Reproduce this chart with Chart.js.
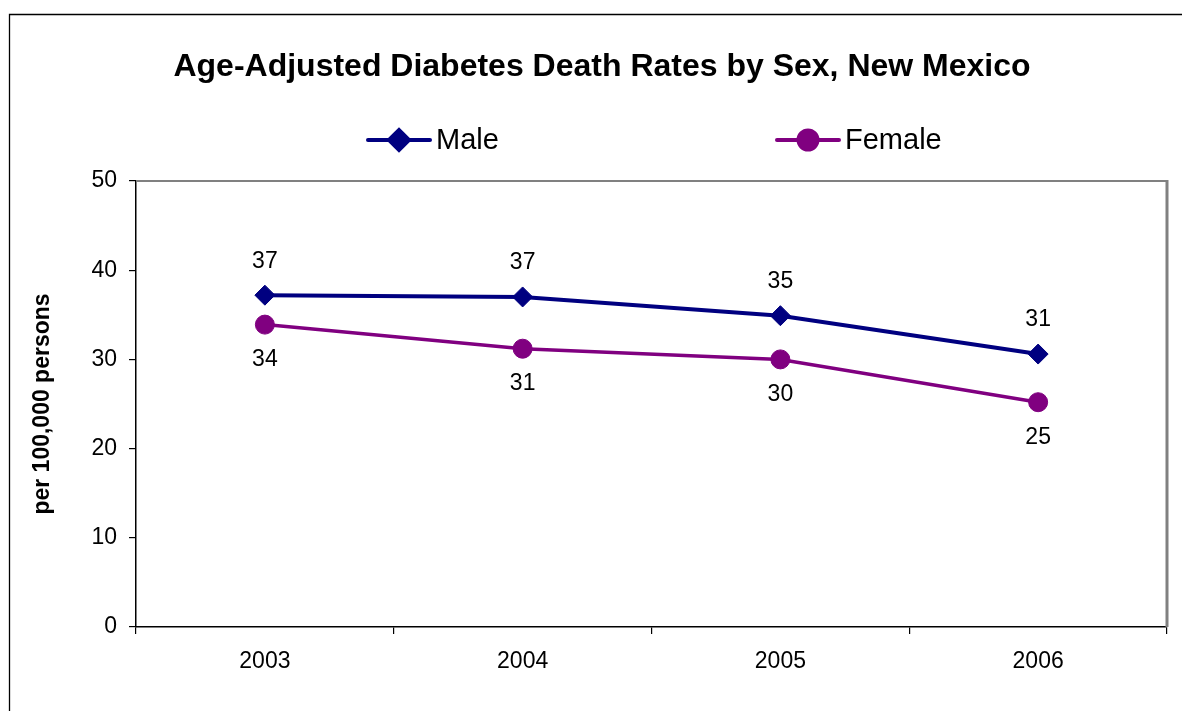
<!DOCTYPE html>
<html>
<head>
<meta charset="utf-8">
<style>
  html, body { margin: 0; padding: 0; background: #fff; }
  #wrap { width: 1182px; height: 711px; }
</style>
</head>
<body>
<div id="wrap"><canvas id="diabetesChart"></canvas></div>
<script src="https://cdn.jsdelivr.net/npm/chart.js"></script>
<script>
// values
var years = ['2003', '2004', '2005', '2006'];
var maleRates = [37.2, 37.0, 34.9, 30.6];
var femaleRates = [33.9, 31.2, 30.0, 25.2];
var maleLabels = ['37', '37', '35', '31'];
var femaleLabels = ['34', '31', '30', '25'];

var NAVY = '#000080';
var PURPLE = '#800080';
var FONT = 'Arial, "Liberation Sans", sans-serif';

// frame, plot border, value labels and the legend
var extras = {
  id: 'extras',
  beforeDraw: function(chart) {
    var ctx = chart.ctx;
    ctx.save();
    ctx.fillStyle = '#fff';
    ctx.fillRect(0, 0, chart.width, chart.height);
    ctx.strokeStyle = '#000';
    ctx.lineWidth = 1.3;
    ctx.beginPath();
    ctx.moveTo(9.5, chart.height + 2);
    ctx.lineTo(9.5, 14.5);
    ctx.lineTo(chart.width + 2, 14.5);
    ctx.stroke();
    ctx.restore();
  },
  beforeDatasetsDraw: function(chart) {
    var ctx = chart.ctx, a = chart.chartArea;
    ctx.save();
    ctx.strokeStyle = '#808080';
    ctx.lineWidth = 2;
    ctx.beginPath();
    ctx.moveTo(a.left, a.top);
    ctx.lineTo(a.right, a.top);
    ctx.stroke();
    ctx.lineWidth = 3;
    ctx.beginPath();
    ctx.moveTo(a.right, a.top - 1);
    ctx.lineTo(a.right, a.bottom);
    ctx.stroke();
    ctx.restore();
  },
  afterDatasetsDraw: function(chart) {
    var ctx = chart.ctx;
    ctx.save();
    ctx.font = '23px ' + FONT;
    ctx.fillStyle = '#000';
    ctx.textAlign = 'center';
    ctx.textBaseline = 'middle';
    chart.getDatasetMeta(0).data.forEach(function(pt, i) {
      ctx.fillText(maleLabels[i], pt.x, pt.y - 34);
    });
    chart.getDatasetMeta(1).data.forEach(function(pt, i) {
      ctx.fillText(femaleLabels[i], pt.x, pt.y + 35);
    });

    // legend
    var items = [
      { text: 'Male', color: NAVY, style: 'rectRot', x: 368, r: 10 },
      { text: 'Female', color: PURPLE, style: 'circle', x: 777, r: 9.5 }
    ];
    var ly = 140;
    ctx.font = '29px ' + FONT;
    ctx.textAlign = 'left';
    items.forEach(function(it) {
      ctx.strokeStyle = it.color;
      ctx.fillStyle = it.color;
      ctx.lineWidth = 4;
      ctx.lineCap = 'round';
      ctx.beginPath();
      ctx.moveTo(it.x, ly);
      ctx.lineTo(it.x + 62, ly);
      ctx.stroke();
      Chart.helpers.drawPoint(ctx, { pointStyle: it.style, radius: it.r, borderWidth: 1 }, it.x + 31, ly);
      ctx.fill();
      ctx.fillStyle = '#000';
      ctx.fillText(it.text, it.x + 68, ly + 1);
    });
    ctx.restore();
  }
};

var ctx = document.getElementById('diabetesChart').getContext('2d');
var diabetesChart = new Chart(ctx, {
  type: 'line',
  data: {
    labels: years,
    datasets: [{
      label: 'Male',
      data: maleRates,
      borderColor: NAVY,
      backgroundColor: NAVY,
      borderWidth: 4,
      pointStyle: 'rectRot',
      pointRadius: 10,
      pointBorderWidth: 1,
      tension: 0
    }, {
      label: 'Female',
      data: femaleRates,
      borderColor: PURPLE,
      backgroundColor: PURPLE,
      borderWidth: 3.5,
      pointStyle: 'circle',
      pointRadius: 9.5,
      pointBorderWidth: 1,
      tension: 0
    }]
  },
  options: {
    responsive: true,
    maintainAspectRatio: false,
    animation: false,
    layout: { padding: { left: 37, right: 15, top: 0, bottom: 0 } },
    plugins: {
      legend: { display: false },
      tooltip: { enabled: false },
      title: {
        display: true,
        text: 'Age-Adjusted Diabetes Death Rates by Sex, New Mexico',
        color: '#000',
        font: { family: FONT, size: 32, weight: 'bold' },
        padding: { top: 48, bottom: 94.6 }
      }
    },
    scales: {
      x: {
        type: 'category',
        offset: true,
        border: { color: '#000', width: 1.5 },
        grid: { offset: true, drawOnChartArea: false, tickLength: 7, color: '#000', lineWidth: 1.2 },
        ticks: { color: '#000', font: { family: FONT, size: 23 }, padding: 14, maxRotation: 0 },
        afterFit: function(scale) { scale.height = 84; }
      },
      y: {
        min: 0,
        max: 50,
        border: { color: '#000', width: 1.5 },
        grid: { drawOnChartArea: false, tickLength: 7, color: '#000', lineWidth: 1.2 },
        ticks: { stepSize: 10, color: '#000', font: { family: FONT, size: 23 }, padding: 12 },
        title: {
          display: true,
          text: 'per 100,000 persons',
          color: '#000',
          font: { family: FONT, size: 23, weight: 'bold', lineHeight: 0.5 },
          padding: { top: 0, bottom: 0 }
        },
        afterFit: function(scale) { scale.width = 99; }
      }
    }
  },
  plugins: [extras]
});
</script>
</body>
</html>
